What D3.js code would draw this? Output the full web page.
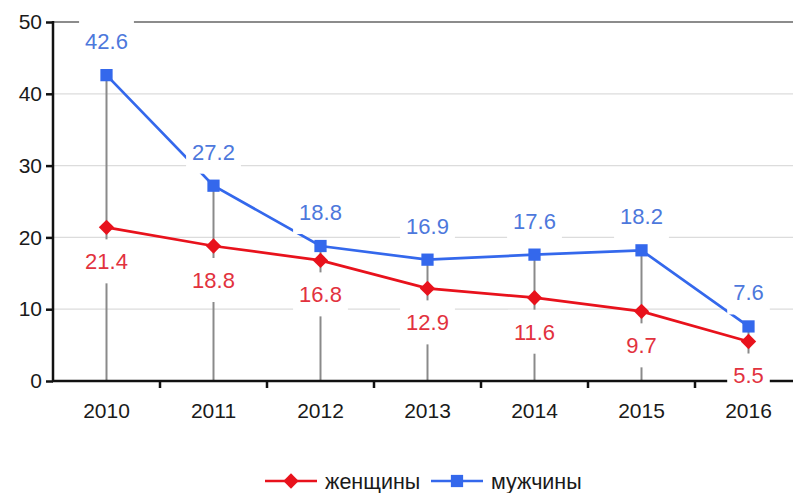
<!DOCTYPE html>
<html>
<head>
<meta charset="utf-8">
<script src="https://cdn.jsdelivr.net/npm/d3@7"></script>
<style>
  body { margin: 0; background: #fff; }
  svg { display: block; font-family: "Liberation Sans", Arial, sans-serif; }
</style>
</head>
<body>
<svg></svg>
<script>
// data
var years = ["2010", "2011", "2012", "2013", "2014", "2015", "2016"];
var women = [21.4, 18.8, 16.8, 12.9, 11.6, 9.7, 5.5];
var men = [42.6, 27.2, 18.8, 16.9, 17.6, 18.2, 7.6];
var yTicks = [0, 10, 20, 30, 40, 50];
var seriesNames = ["женщины", "мужчины"];

var screen = {width: 793, height: 493};
var margins = {top: 22, left: 53, right: -9, bottom: 112};

var svg = d3.select("svg")
    .attr("width", screen.width)
    .attr("height", screen.height);

var xScale = d3.scaleBand()
    .domain(years)
    .range([margins.left, screen.width - margins.right]);

var yScale = d3.scaleLinear()
    .domain([0, 50])
    .range([screen.height - margins.bottom, margins.top]);

var cx = function(d, i) { return xScale(years[i]) + xScale.bandwidth() / 2; };

var red = "#e8121c", blue = "#3468ec";
var redText = "#e2323e", blueText = "#4d78dc";

// gridlines
svg.append("g")
    .selectAll("line")
    .data(yTicks.filter(function(t) { return t > 0; }))
    .enter()
    .append("line")
    .attr("x1", margins.left)
    .attr("x2", screen.width)
    .attr("y1", function(t) { return yScale(t); })
    .attr("y2", function(t) { return yScale(t); })
    .attr("stroke", function(t) { return t == 50 ? "#8c8c8c" : "#dcdcdc"; })
    .attr("stroke-width", function(t) { return t == 50 ? 2 : 1.2; });

// drop lines (from the higher point down to the axis)
svg.append("g")
    .selectAll("line")
    .data(men)
    .enter()
    .append("line")
    .attr("x1", cx).attr("x2", cx)
    .attr("y1", function(d, i) { return yScale(Math.max(d, women[i])); })
    .attr("y2", yScale(0))
    .attr("stroke", "#8a8a8a")
    .attr("stroke-width", 2);

// axes
var yAxis = d3.axisLeft(yScale).tickValues(yTicks).tickSize(7).tickPadding(4);
var gy = svg.append("g")
    .attr("transform", "translate(" + margins.left + ",0)")
    .call(yAxis);
gy.select(".domain").remove();
gy.selectAll("line").attr("stroke", "#111").attr("stroke-width", 2.5);
gy.selectAll("text").attr("font-size", 21).attr("fill", "#1a1a1a")
    .attr("font-family", "Liberation Sans, Arial, sans-serif");

var xAxis = d3.axisBottom(xScale).tickSize(0).tickPadding(22);
var gx = svg.append("g")
    .attr("transform", "translate(0," + yScale(0) + ")")
    .call(xAxis);
gx.select(".domain").remove();
gx.selectAll("text").attr("font-size", 21).attr("fill", "#1a1a1a")
    .attr("font-family", "Liberation Sans, Arial, sans-serif");

// tick marks between categories
svg.append("g")
    .selectAll("line")
    .data(years.slice(1))
    .enter()
    .append("line")
    .attr("x1", function(y) { return xScale(y); })
    .attr("x2", function(y) { return xScale(y); })
    .attr("y1", yScale(0))
    .attr("y2", yScale(0) + 7)
    .attr("stroke", "#111")
    .attr("stroke-width", 2.5);

// axis lines
svg.append("line")
    .attr("x1", margins.left).attr("x2", margins.left)
    .attr("y1", yScale(50) - 1).attr("y2", yScale(0) + 1)
    .attr("stroke", "#111").attr("stroke-width", 2.5);
svg.append("line")
    .attr("x1", margins.left - 1).attr("x2", screen.width)
    .attr("y1", yScale(0)).attr("y2", yScale(0))
    .attr("stroke", "#111").attr("stroke-width", 2.5);

// lines
var lineGenerator = d3.line()
    .x(cx)
    .y(function(d) { return yScale(d); });

svg.append("path")
    .datum(women)
    .attr("d", lineGenerator)
    .attr("fill", "none")
    .attr("stroke", red)
    .attr("stroke-width", 2.7);

svg.append("path")
    .datum(men)
    .attr("d", lineGenerator)
    .attr("fill", "none")
    .attr("stroke", blue)
    .attr("stroke-width", 2.7);

var diamond = d3.symbol().type(d3.symbolDiamond2).size(150);
var square = d3.symbol().type(d3.symbolSquare).size(150);

// markers
svg.append("g")
    .selectAll("path")
    .data(women)
    .enter()
    .append("path")
    .attr("d", diamond)
    .attr("transform", function(d, i) { return "translate(" + cx(d, i) + "," + yScale(d) + ")"; })
    .attr("fill", red);

svg.append("g")
    .selectAll("path")
    .data(men)
    .enter()
    .append("path")
    .attr("d", square)
    .attr("transform", function(d, i) { return "translate(" + cx(d, i) + "," + yScale(d) + ")"; })
    .attr("fill", blue);

// value labels with white boxes
var addLabels = function(values, offset, color)
{
    var g = svg.append("g")
        .selectAll("g")
        .data(values)
        .enter()
        .append("g")
        .attr("transform", function(d, i) {
            return "translate(" + cx(d, i) + "," + (yScale(d) + offset) + ")";
        });
    var texts = g.append("text")
        .text(function(d) { return d.toFixed(1); })
        .attr("text-anchor", "middle")
        .attr("dy", "0.36em")
        .attr("font-size", 22)
        .attr("fill", color);
    texts.each(function() {
        var w = this.getComputedTextLength();
        d3.select(this.parentNode).insert("rect", "text")
            .attr("x", -w / 2 - 6)
            .attr("y", -22)
            .attr("width", w + 12)
            .attr("height", 44)
            .attr("fill", "#fff");
    });
}

addLabels(men, -34, blueText);
addLabels(women, 34, redText);

// legend
var legend = svg.append("g").attr("transform", "translate(0,481)");
var legendItems = [
    {name: seriesNames[0], color: red, sym: diamond, x: 265},
    {name: seriesNames[1], color: blue, sym: square, x: 431}
];
var li = legend.selectAll("g")
    .data(legendItems)
    .enter()
    .append("g")
    .attr("transform", function(d) { return "translate(" + d.x + ",0)"; });
li.append("line")
    .attr("x1", 0).attr("x2", 52)
    .attr("stroke", function(d) { return d.color; })
    .attr("stroke-width", 2.5);
li.append("path")
    .attr("d", function(d) { return d.sym(); })
    .attr("transform", "translate(26,0)")
    .attr("fill", function(d) { return d.color; });
li.append("text")
    .text(function(d) { return d.name; })
    .attr("x", 60)
    .attr("dy", "0.36em")
    .attr("font-size", 21.5)
    .attr("fill", "#1a1a1a");
</script>
</body>
</html>
